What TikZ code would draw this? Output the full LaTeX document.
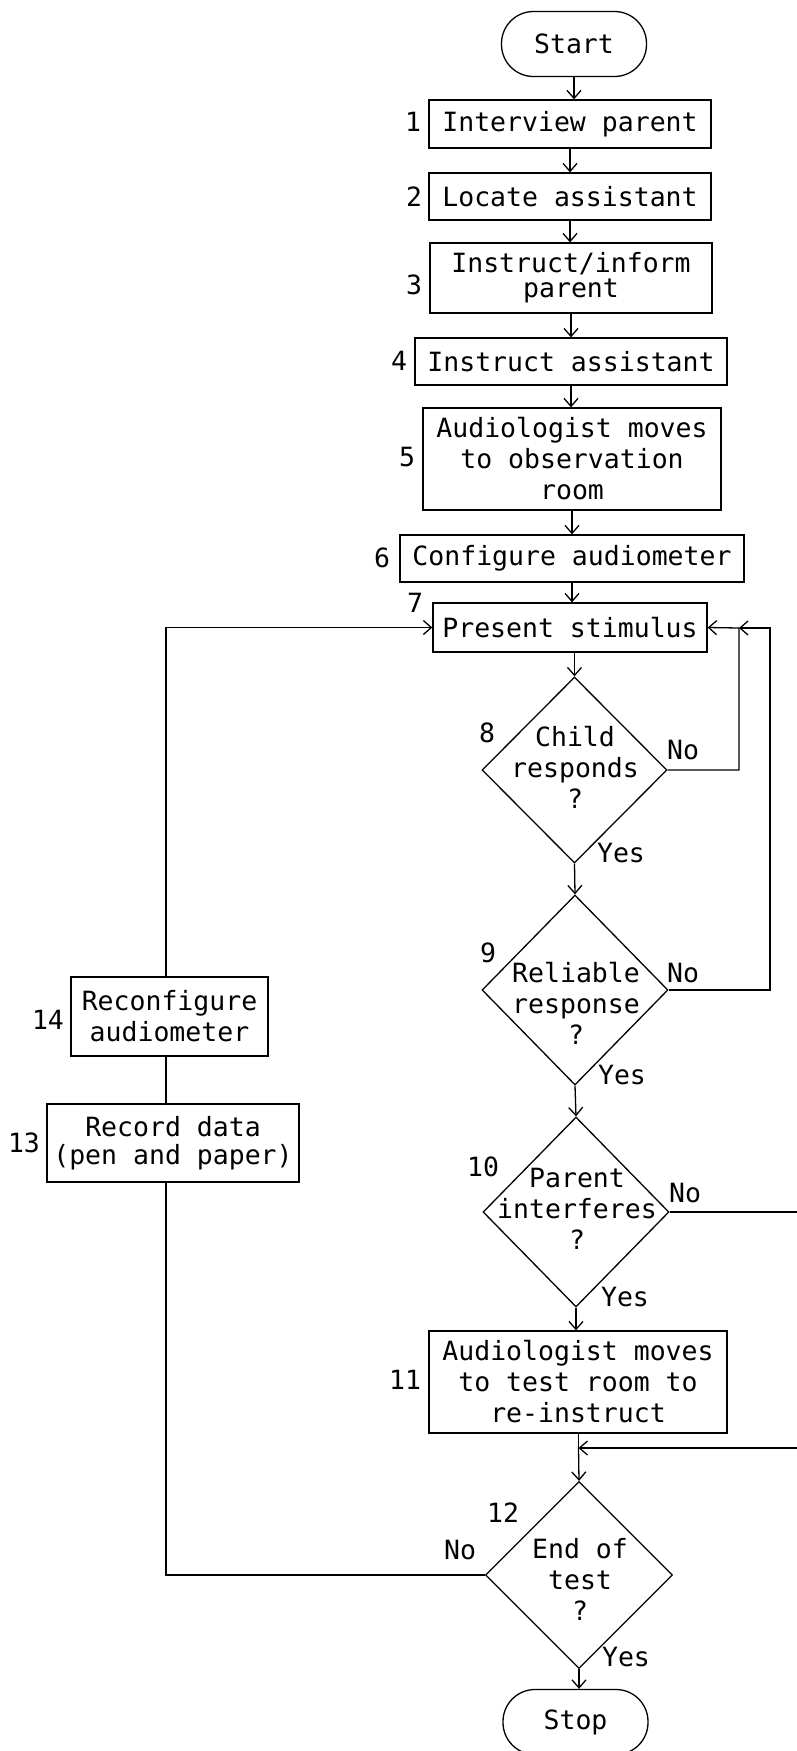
\documentclass[tikz,border=0pt]{standalone}
\usepackage{fontspec}
\setmainfont{DejaVu Sans Mono}
\usetikzlibrary{arrows.meta,shapes.geometric}
\begin{document}
\begin{tikzpicture}[x=1pt,y=-1pt,
  font=\fontsize{26.5}{31}\selectfont,
  line width=1.3pt,
  >={Straight Barb[length=8pt,width=14pt,line width=1.3pt]},
  proc/.style={draw, rectangle, inner sep=0pt, align=center},
  term/.style={draw, rectangle, rounded corners=32pt, inner sep=0pt,
    minimum width=145pt, minimum height=65pt},
  dec/.style={draw, diamond, inner sep=0pt},
  dectext/.style={align=center, inner sep=0pt},
  num/.style={inner sep=0pt},
  ans/.style={inner sep=0pt},
]
\useasboundingbox (0,0) rectangle (797,1751);

% main column
\node[term] (start) at (574,44) {Start};
\node[proc, minimum width=282pt, minimum height=48pt] (b1) at (570,124) {Interview parent};
\node[proc, minimum width=282pt, minimum height=47pt] (b2) at (570,196.5) {Locate assistant};
\node[proc, minimum width=282pt, minimum height=70pt] (b3) at (571,278) {Instruct/inform\\[-6pt]parent};
\node[proc, minimum width=312pt, minimum height=47pt] (b4) at (571,361.5) {Instruct assistant};
\node[proc, minimum width=298pt, minimum height=102pt] (b5) at (572,459) {Audiologist moves\\to observation\\room};
\node[proc, minimum width=344pt, minimum height=47pt] (b6) at (572,558.5) {Configure audiometer};
\node[proc, minimum width=274pt, minimum height=49pt] (b7) at (570,627.5) {Present stimulus};

\node[dec, minimum width=185pt, minimum height=186pt] (d8) at (574.5,770) {};
\node[dectext] (d8t) at (575,767) {Child\\responds\\?};
\node[dec, minimum width=186pt, minimum height=190pt] (d9) at (575,990) {};
\node[dectext] (d9t) at (576,1003) {Reliable\\response\\?};
\node[dec, minimum width=186pt, minimum height=190pt] (d10) at (576,1212) {};
\node[dectext] (d10t) at (577,1209) {Parent\\interferes\\?};

\node[proc, minimum width=298pt, minimum height=102pt] (b11) at (578,1382) {Audiologist moves\\to test room to\\re-instruct};
\node[dec, minimum width=187pt, minimum height=187pt] (d12) at (579,1575) {};
\node[dectext] (d12t) at (580,1579) {End of\\test\\?};
\node[term] (stop) at (575.5,1722) {Stop};

% side column
\node[proc, minimum width=197pt, minimum height=79pt] (b14) at (169.5,1016.5) {Reconfigure\\audiometer};
\node[proc, minimum width=252pt, minimum height=78pt] (b13) at (173,1143) {Record data\\[-3pt](pen and paper)};

% step numbers
\node[num] (n1) at (413,122) {1};
\node[num] (n2) at (414,197) {2};
\node[num] (n3) at (414,285) {3};
\node[num] (n4) at (399,361) {4};
\node[num] (n5) at (407,457) {5};
\node[num] (n6) at (382,558) {6};
\node[num] (n7) at (415,603) {7};
\node[num] (n8) at (487,733) {8};
\node[num] (n9) at (488,953) {9};
\node[num] (n10) at (483,1167) {10};
\node[num] (n11) at (405,1380) {11};
\node[num] (n12) at (503,1513) {12};
\node[num] (n13) at (24,1143) {13};
\node[num] (n14) at (48,1020) {14};

% answers
\node[ans] (no8) at (683,750) {No};
\node[ans] (yes8) at (621,853) {Yes};
\node[ans] (no9) at (683,973) {No};
\node[ans] (yes9) at (622,1075) {Yes};
\node[ans] (no10) at (685,1193) {No};
\node[ans] (yes10) at (625,1297) {Yes};
\node[ans] (no12) at (460,1550) {No};
\node[ans] (yes12) at (626,1657) {Yes};

% routing points
\coordinate (j8) at (739,628);
\coordinate (r9) at (770,628);
\coordinate (j10) at (578.5,1448);
\coordinate (r10) at (830,1448);
\coordinate (loopx) at (166,0);

% main flow, drawn straight down from each node
\draw[->] (start.south) -- (start.south |- b1.north);
\draw[->] (b1.south) -- (b1.south |- b2.north);
\draw[->] (b2.south) -- (b2.south |- b3.north);
\draw[->] (b3.south) -- (b3.south |- b4.north);
\draw[->] (b4.south) -- (b4.south |- b5.north);
\draw[->] (b5.south) -- (b5.south |- b6.north);
\draw[->] (b6.south) -- (b6.south |- b7.north);
\draw[->] (d8.north |- b7.south) -- (d8.north);
\draw[->] (d8.south) -- (d9.north);
\draw[->] (d9.south) -- (d10.north);
\draw[->] (d10.south) -- (d10.south |- b11.north);
\draw (j10 |- b11.south) -- (j10);
\draw[->] (j10) -- (d12.north);
\draw[->] (d12.south) -- (d12.south |- stop.north);

% loops back
\draw[->] (d8.east) -| (j8) -- (b7.east);
\draw[->] (d9.east) -| (r9) -- (j8);
\draw[->] (d10.east) -| (r10) -- (j10);
\draw (d12.west) -| (b13.south -| loopx);
\draw (b13.north -| loopx) -- (b14.south -| loopx);
\draw[->] (b14.north -| loopx) |- (b7.west);
\end{tikzpicture}
\end{document}
